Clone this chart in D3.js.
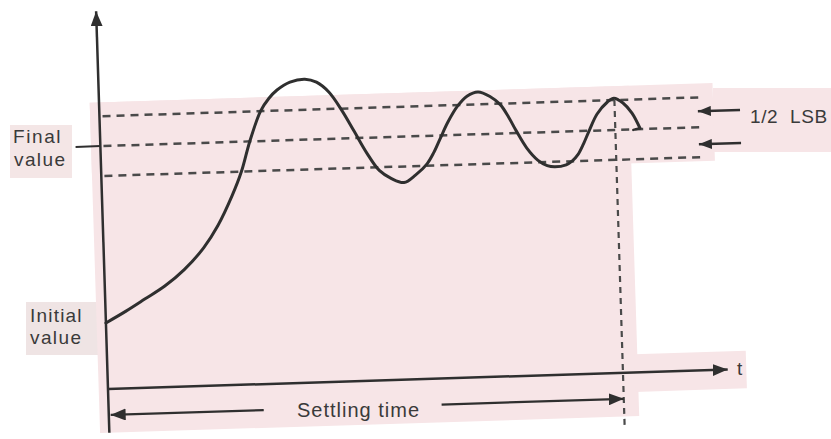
<!DOCTYPE html>
<html>
<head>
<meta charset="utf-8">
<script src="https://cdn.jsdelivr.net/npm/d3@7"></script>
<style>
  html, body { margin: 0; padding: 0; background: #ffffff; }
  svg { display: block; }
  text { font-family: "Liberation Sans", Arial, sans-serif; fill: #3a3a3a; }
</style>
</head>
<body>
<svg id="chart" width="831" height="439"></svg>
<script>
// ---- data (time in arbitrary units, output value normalised to final value = 1) ----
const curveTimes  = [0, 0.323, 0.645, 0.968, 1.290, 1.613, 1.855, 2.097, 2.261, 2.411, 2.600, 2.742, 2.876, 3.089, 3.332,
                     3.516, 3.710, 3.903, 4.097, 4.290, 4.484, 4.677, 4.877,
                     5.065, 5.258, 5.371, 5.484, 5.613, 5.774, 5.935, 6.115,
                     6.306, 6.468, 6.597, 6.710, 6.871, 7.048, 7.194, 7.319,
                     7.500, 7.597, 7.694, 7.790, 7.887, 8.024, 8.192, 8.303,
                     8.447, 8.587, 8.708];
const curveValues = [0.272, 0.317, 0.366, 0.416, 0.481, 0.568, 0.658, 0.778, 0.877, 1.000, 1.123, 1.175, 1.208, 1.239, 1.249,
                     1.235, 1.193, 1.119, 1.029, 0.938, 0.864, 0.829, 0.811,
                     0.840, 0.885, 0.930, 0.988, 1.053, 1.117, 1.158, 1.174,
                     1.154, 1.119, 1.066, 1.010, 0.938, 0.885, 0.862, 0.856,
                     0.863, 0.877, 0.903, 0.947, 1.000, 1.068, 1.115, 1.131,
                     1.110, 1.067, 1.004];
const hookTimes   = [8.708, 8.60];
const hookValues  = [1.004, 0.998];
const finalValue  = 1.0;
const halfLSB     = 0.123;
const settlingTime = 8.31;
const bandEnd     = 9.74;
const tAxisMax    = 10;
const vAxisMax    = 1.555;
const vAxisMin    = -0.18;
const lsbArrowValues = [1.066, 0.93];
const lsbArrowFrom = 10.33, lsbArrowTo = 9.65;
const settleArrowValue = -0.107;
const labelFinal   = ["Final", "value"];
const labelInitial = ["Initial", "value"];
const labelLSB     = "1/2 LSB";
const labelT       = "t";
const labelSettling = "Settling time";

// ---- setup ----
const svg = d3.select("#chart");
const x = d3.scaleLinear().domain([0, tAxisMax]).range([0, 620]);
const y = d3.scaleLinear().domain([0, 1]).range([0, -243]);

const pink = "#f7e5e7";
const ink = "#2f2f2f";
const dashInk = "#4a4a4a";

const defs = svg.append("defs");
function marker(id, len, half) {
  defs.append("marker")
    .attr("id", id)
    .attr("viewBox", `0 0 ${len} ${half * 2}`)
    .attr("refX", len).attr("refY", half)
    .attr("markerWidth", len).attr("markerHeight", half * 2)
    .attr("markerUnits", "userSpaceOnUse")
    .attr("orient", "auto-start-reverse")
    .append("path")
    .attr("d", `M0,0 L${len},${half} L0,${half * 2} Z`)
    .attr("fill", ink);
}
marker("arrow", 15, 6);
marker("arrowSmall", 13, 5);

// unrotated label backgrounds (scan tint)
svg.append("rect").attr("x", 713).attr("y", 88).attr("width", 118).attr("height", 64).attr("fill", pink);
svg.append("rect").attr("x", 10).attr("y", 125).attr("width", 62).attr("height", 53).attr("fill", "#f4e6e6");
svg.append("rect").attr("x", 26).attr("y", 302).attr("width", 72).attr("height", 53).attr("fill", "#efe4e4");

// slightly rotated drawing frame (as in the scanned figure)
const g = svg.append("g").attr("transform", "translate(108,389) rotate(-1.8)");

// background tint regions
g.append("rect").attr("x", x(-0.15)).attr("y", y(1.18))
  .attr("width", x(8.55) - x(-0.15)).attr("height", y(-0.18) - y(1.18)).attr("fill", pink);
g.append("rect").attr("x", x(-0.15)).attr("y", y(1.18))
  .attr("width", x(9.9) - x(-0.15)).attr("height", y(0.86) - y(1.18)).attr("fill", pink);
g.append("rect").attr("x", x(8.5)).attr("y", y(0.075))
  .attr("width", x(10.3) - x(8.5)).attr("height", y(-0.08) - y(0.075)).attr("fill", pink);

// dashed half-LSB band lines
const bandLevels = [finalValue + halfLSB, finalValue, finalValue - halfLSB];
g.selectAll("line.band").data(bandLevels).enter().append("line")
  .attr("class", "band")
  .attr("x1", x(0.05)).attr("x2", x(bandEnd))
  .attr("y1", d => y(d)).attr("y2", d => y(d))
  .attr("stroke", dashInk).attr("stroke-width", 2.5)
  .attr("stroke-dasharray", "8,6");

// final value tick on the y axis
g.append("line")
  .attr("x1", x(-0.4)).attr("x2", x(0))
  .attr("y1", y(finalValue)).attr("y2", y(finalValue))
  .attr("stroke", ink).attr("stroke-width", 2);

// settling time vertical dashed line
g.append("line")
  .attr("x1", x(settlingTime)).attr("x2", x(settlingTime))
  .attr("y1", y(finalValue + halfLSB)).attr("y2", y(-0.235))
  .attr("stroke", dashInk).attr("stroke-width", 2.2)
  .attr("stroke-dasharray", "6,5");

// axes
g.append("line")
  .attr("x1", x(0)).attr("x2", x(0))
  .attr("y1", y(vAxisMin)).attr("y2", y(vAxisMax))
  .attr("stroke", ink).attr("stroke-width", 2.5)
  .attr("marker-end", "url(#arrow)");
g.append("line")
  .attr("x1", x(0)).attr("x2", x(tAxisMax))
  .attr("y1", y(0)).attr("y2", y(0))
  .attr("stroke", ink).attr("stroke-width", 2.5)
  .attr("marker-end", "url(#arrow)");

// response curve
const pts = curveTimes.map((t, i) => [t, curveValues[i]]);
const line = d3.line().x(d => x(d[0])).y(d => y(d[1])).curve(d3.curveCatmullRom.alpha(0.5));
g.append("path").attr("d", line(pts))
  .attr("fill", "none").attr("stroke", ink).attr("stroke-width", 3)
  .attr("stroke-linecap", "round").attr("stroke-linejoin", "round");
const hook = hookTimes.map((t, i) => [t, hookValues[i]]);
g.append("path").attr("d", d3.line().x(d => x(d[0])).y(d => y(d[1]))(hook))
  .attr("fill", "none").attr("stroke", ink).attr("stroke-width", 2.5)
  .attr("stroke-linecap", "round");

// half LSB arrows
g.selectAll("line.lsb").data(lsbArrowValues).enter().append("line")
  .attr("class", "lsb")
  .attr("x1", x(lsbArrowFrom)).attr("x2", x(lsbArrowTo))
  .attr("y1", d => y(d)).attr("y2", d => y(d))
  .attr("stroke", ink).attr("stroke-width", 2.5)
  .attr("marker-end", "url(#arrowSmall)");

// settling time arrow (two segments around the label)
g.append("line")
  .attr("x1", x(2.5)).attr("x2", x(0.03))
  .attr("y1", y(settleArrowValue)).attr("y2", y(settleArrowValue))
  .attr("stroke", ink).attr("stroke-width", 2.2)
  .attr("marker-end", "url(#arrow)");
g.append("line")
  .attr("x1", x(5.37)).attr("x2", x(settlingTime))
  .attr("y1", y(settleArrowValue)).attr("y2", y(settleArrowValue))
  .attr("stroke", ink).attr("stroke-width", 2.2)
  .attr("marker-end", "url(#arrow)");

// labels
const fs = 19;
svg.append("text").attr("x", 13).attr("y", 143).attr("font-size", fs).attr("letter-spacing", 1.6).text(labelFinal[0]);
svg.append("text").attr("x", 14).attr("y", 166).attr("font-size", fs).attr("letter-spacing", 1.4).text(labelFinal[1]);
svg.append("text").attr("x", 30).attr("y", 322).attr("font-size", fs).attr("letter-spacing", 1.2).text(labelInitial[0]);
svg.append("text").attr("x", 30).attr("y", 344).attr("font-size", fs).attr("letter-spacing", 1.4).text(labelInitial[1]);
svg.append("text").attr("x", 750).attr("y", 123).attr("font-size", fs).attr("letter-spacing", 0.6).attr("word-spacing", 6).text(labelLSB);
svg.append("text").attr("x", 737).attr("y", 375).attr("font-size", fs).text(labelT);
svg.append("text").attr("x", 297).attr("y", 417).attr("font-size", 20).attr("letter-spacing", 1.0).text(labelSettling);
</script>
</body>
</html>
